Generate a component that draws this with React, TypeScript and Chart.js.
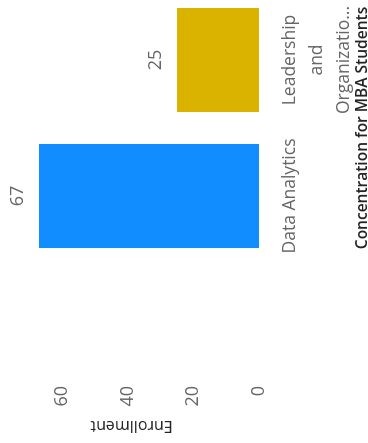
import React, { useEffect, useRef } from "react";
import { Chart, registerables } from "chart.js";

Chart.register(...registerables);

const categories: string[][] = [["Data Analytics"], ["Leadership", "and", "Organizatio..."]];
const enrollment: number[] = [67, 25];
const barColors: string[] = ["#118DFF", "#D9B300"];
const valueTicks: number[] = [0, 20, 40, 60];
const xTitle = "Concentration for MBA Students";
const yTitle = "Enrollment";

const FONT = "'Open Sans', 'Noto Sans', sans-serif";

const dataLabels = {
  id: "dataLabels",
  afterDatasetsDraw(chart: any) {
    const ctx = chart.ctx;
    const meta = chart.getDatasetMeta(0);
    ctx.save();
    ctx.font = `18px ${FONT}`;
    ctx.fillStyle = "#666666";
    ctx.textAlign = "center";
    ctx.textBaseline = "middle";
    meta.data.forEach((bar: any, i: number) => {
      ctx.fillText(String(chart.data.datasets[0].data[i]), bar.x, bar.y - 21);
    });
    ctx.restore();
  },
};

export default function App() {
  const ref = useRef<HTMLCanvasElement | null>(null);
  useEffect(() => {
    if (!ref.current) return;
    const chart = new Chart(ref.current, {
      type: "bar",
      data: {
        labels: categories,
        datasets: [
          {
            data: enrollment,
            backgroundColor: barColors,
            borderWidth: 0,
            barPercentage: 0.9,
            categoryPercentage: 0.85,
          },
        ],
      },
      options: {
        responsive: false,
        animation: false,
        devicePixelRatio: 1,
        layout: { padding: { left: 4, right: 9, top: 4, bottom: 0 } },
        plugins: {
          legend: { display: false },
          tooltip: { enabled: false },
        },
        scales: {
          x: {
            grid: { display: false, drawTicks: false },
            border: { display: false },
            ticks: {
              color: "#666666",
              padding: 17,
              maxRotation: 0,
              minRotation: 0,
              autoSkip: false,
              font: { family: FONT, size: 17.5, lineHeight: 1.55 },
            },
            title: {
              display: true,
              text: xTitle,
              color: "#252423",
              padding: { top: 0, bottom: 0 },
              font: { family: FONT, size: 15.5, weight: "600", lineHeight: 1.2 },
            },
            afterFit(scale: any) {
              scale.height = 113;
            },
          },
          y: {
            min: 0,
            max: 77.7,
            grid: { display: false, drawTicks: false },
            border: { display: false },
            afterBuildTicks(scale: any) {
              scale.ticks = valueTicks.map((v) => ({ value: v }));
            },
            ticks: {
              color: "#666666",
              padding: 122,
              font: { family: FONT, size: 18 },
            },
            title: {
              display: true,
              text: yTitle,
              color: "#252423",
              padding: { top: 4, bottom: 4 },
              font: { family: FONT, size: 16, lineHeight: 1.2 },
            },
            afterFit(scale: any) {
              scale.width = 175;
              scale.paddingTop = 0;
              scale.paddingBottom = 0;
            },
          },
        },
      },
      plugins: [dataLabels],
    });
    return () => chart.destroy();
  }, []);

  return (
    <div
      style={{
        position: "fixed",
        left: 0,
        top: 0,
        width: 368,
        height: 443,
        overflow: "hidden",
        background: "#ffffff",
      }}
    >
      <div
        style={{
          position: "absolute",
          left: 0,
          top: 0,
          width: 460,
          height: 372,
          transformOrigin: "0 0",
          transform: "translate(0px, 443px) rotate(-90deg)",
        }}
      >
        <canvas ref={ref} width={460} height={372} style={{ display: "block" }} />
      </div>
    </div>
  );
}
